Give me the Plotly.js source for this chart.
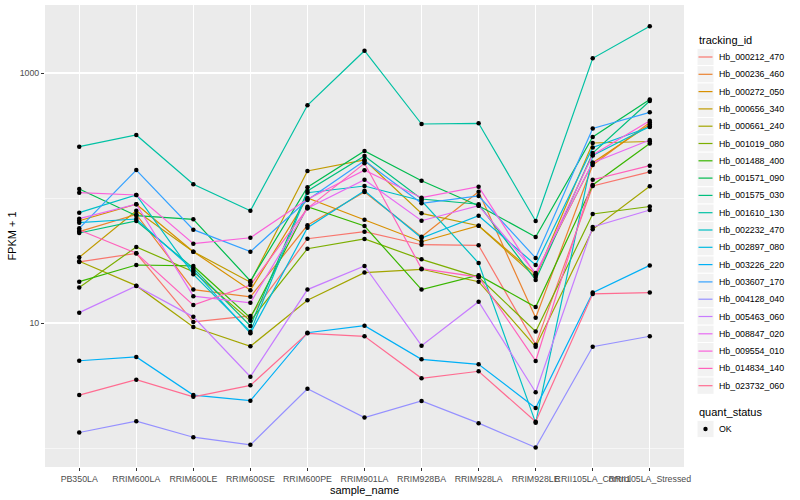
<!DOCTYPE html>
<html>
<head>
<meta charset="utf-8">
<script src="https://cdn.plot.ly/plotly-3.0.1.min.js"></script>
<style>
html,body{margin:0;padding:0;background:#fff;}
#chart{width:800px;height:500px;}
</style>
</head>
<body>
<div id="chart"></div>
<script>
// x categories (sample_name)
const categories = ['PB350LA','RRIM600LA','RRIM600LE','RRIM600SE','RRIM600PE','RRIM901LA','RRIM928BA','RRIM928LA','RRIM928LE','RRII105LA_Control','RRII105LA_Stressed'];

// series names (tracking_id)
const trackingIds = ['Hb_000212_470','Hb_000236_460','Hb_000272_050','Hb_000656_340','Hb_000661_240','Hb_001019_080','Hb_001488_400','Hb_001571_090','Hb_001575_030','Hb_001610_130','Hb_002232_470','Hb_002897_080','Hb_003226_220','Hb_003607_170','Hb_004128_040','Hb_005463_060','Hb_008847_020','Hb_009554_010','Hb_014834_140','Hb_023732_060'];

// FPKM + 1 values, one array per tracking_id, in category order
const Hb_000212_470 = [30.8, 36.1, 10.2, 11.4, 47.2, 53.8, 42.3, 41.8, 6.71, 124.7, 162.0];
const Hb_000236_460 = [53.8, 74.0, 18.5, 16.2, 60.5, 111.7, 49.0, 112.3, 11.0, 183.7, 401.8];
const Hb_000272_050 = [65.8, 89.1, 37.2, 18.3, 100.0, 67.0, 44.7, 60.0, 24.5, 191.6, 387.3];
const Hb_000656_340 = [33.5, 79.1, 37.2, 21.2, 164.4, 201.4, 75.4, 60.0, 23.3, 275.4, 283.1];
const Hb_000661_240 = [31.2, 19.9, 9.29, 6.51, 15.2, 25.3, 26.9, 21.4, 6.46, 56.2, 124.3];
const Hb_001019_080 = [19.2, 40.6, 25.7, 10.4, 39.3, 47.0, 32.3, 23.3, 8.55, 74.5, 85.5];
const Hb_001488_400 = [21.4, 29.1, 28.6, 11.0, 85.2, 59.7, 18.5, 24.1, 13.4, 127.1, 272.9];
const Hb_001571_090 = [118.0, 72.2, 67.5, 21.7, 121.8, 237.7, 137.5, 86.8, 48.8, 307.6, 613.8];
const Hb_001575_030 = [52.5, 65.5, 27.5, 9.46, 113.8, 216.8, 98.2, 89.1, 22.1, 229.1, 597.0];
const Hb_001610_130 = [257.3, 319.2, 128.7, 79.1, 551.4, 1508, 390.8, 396.0, 65.5, 1311, 2363];
const Hb_002232_470 = [76.3, 105.7, 24.5, 8.52, 110.3, 124.7, 95.1, 30.2, 1.59, 218.8, 373.3];
const Hb_002897_080 = [63.5, 67.9, 26.5, 8.27, 57.9, 114.4, 47.9, 72.2, 29.1, 253.5, 369.8];
const Hb_003226_220 = [4.99, 5.35, 2.65, 2.39, 8.36, 9.51, 5.12, 4.67, 2.09, 17.5, 28.9];
const Hb_003607_170 = [57.2, 167.5, 55.8, 37.2, 96.4, 198.8, 90.7, 103.8, 33.1, 359.7, 484.8];
const Hb_004128_040 = [1.33, 1.64, 1.22, 1.06, 2.98, 1.75, 2.38, 1.58, 1.01, 6.46, 7.83];
const Hb_005463_060 = [12.1, 19.8, 11.2, 3.72, 18.5, 28.6, 6.58, 14.8, 2.79, 58.6, 80.2];
const Hb_008847_020 = [68.3, 89.1, 16.4, 14.5, 82.7, 140.1, 65.8, 86.8, 25.1, 191.6, 291.1];
const Hb_009554_010 = [110.3, 105.7, 43.1, 48.1, 97.6, 166.6, 100.6, 123.1, 24.2, 220.8, 415.3];
const Hb_014834_140 = [55.5, 36.1, 13.9, 20.1, 82.7, 189.5, 27.2, 23.3, 4.97, 140.1, 181.3];
const Hb_023732_060 = [2.65, 3.52, 2.57, 3.17, 8.27, 7.83, 3.61, 4.11, 1.62, 17.1, 17.5];

const seriesValues = [Hb_000212_470, Hb_000236_460, Hb_000272_050, Hb_000656_340, Hb_000661_240, Hb_001019_080, Hb_001488_400, Hb_001571_090, Hb_001575_030, Hb_001610_130, Hb_002232_470, Hb_002897_080, Hb_003226_220, Hb_003607_170, Hb_004128_040, Hb_005463_060, Hb_008847_020, Hb_009554_010, Hb_014834_140, Hb_023732_060];

// quant_status levels
const quantStatus = ['OK'];

// ggplot2 default hue palette for 20 levels
const colors = ['#F8766D','#EA8331','#D89000','#C09B00','#A3A500','#7CAE00','#39B600','#00BB4E','#00BF7D','#00C1A3','#00BFC4','#00BAE0','#00B0F6','#35A2FF','#9590FF','#C77CFF','#E76BF3','#FA62DB','#FF62BC','#FF6C91'];

const yTickVals = [10, 1000];
const yTickText = ['10', '1000'];
const yMinorVals = [1, 100];

const FONT = 'Liberation Sans, Arial, Helvetica, sans-serif';
const W = 800, H = 500;
const M = {l: 45, r: 116, t: 5, b: 33};
const PW = W - M.l - M.r, PH = H - M.t - M.b;
const px = v => (v - M.l) / PW;          // page px -> paper x
const py = v => (H - M.b - v) / PH;      // page px -> paper y

const traces = trackingIds.map((id, i) => ({
  type: 'scatter',
  mode: 'lines',
  name: id,
  x: categories,
  y: seriesValues[i],
  line: {color: colors[i], width: 1.2},
  showlegend: false,
  hoverinfo: 'skip'
}));

traces.push({
  type: 'scatter',
  mode: 'markers',
  name: quantStatus[0],
  x: trackingIds.flatMap(() => categories),
  y: seriesValues.flat(),
  marker: {color: '#000000', size: 4.5, symbol: 'circle'},
  showlegend: false,
  hoverinfo: 'skip'
});

// ggplot-style legend (keys + labels)
const shapes = [];
const annotations = [];
const keyX0 = 697, keyX1 = 714, textX = 717;
const step = 17.3, firstY = 57;

annotations.push({xref: 'paper', yref: 'paper', x: px(697), y: py(40), xanchor: 'left', yanchor: 'middle',
  text: 'tracking_id', showarrow: false, font: {family: FONT, size: 11, color: '#000000'}});

trackingIds.forEach((id, i) => {
  const cy = firstY + i * step;
  shapes.push({type: 'rect', xref: 'paper', yref: 'paper', x0: px(keyX0), x1: px(keyX1),
    y0: py(cy - step / 2), y1: py(cy + step / 2), fillcolor: '#F2F2F2', line: {color: '#FFFFFF', width: 1}, layer: 'above'});
  shapes.push({type: 'line', xref: 'paper', yref: 'paper', x0: px(keyX0 + 1.5), x1: px(keyX1 - 1.5),
    y0: py(cy), y1: py(cy), line: {color: colors[i], width: 1.2}, layer: 'above'});
  annotations.push({xref: 'paper', yref: 'paper', x: px(textX), y: py(cy), xanchor: 'left', yanchor: 'middle',
    text: id, showarrow: false, font: {family: FONT, size: 8.8, color: '#000000'}});
});

annotations.push({xref: 'paper', yref: 'paper', x: px(697), y: py(412), xanchor: 'left', yanchor: 'middle',
  text: 'quant_status', showarrow: false, font: {family: FONT, size: 11, color: '#000000'}});
quantStatus.forEach((q, i) => {
  const cy = 429 + i * step;
  shapes.push({type: 'rect', xref: 'paper', yref: 'paper', x0: px(keyX0), x1: px(keyX1),
    y0: py(cy - step / 2), y1: py(cy + step / 2), fillcolor: '#F2F2F2', line: {color: '#FFFFFF', width: 1}, layer: 'above'});
  shapes.push({type: 'circle', xref: 'paper', yref: 'paper', x0: px(703.3), x1: px(707.7),
    y0: py(cy - 2.2), y1: py(cy + 2.2), fillcolor: '#000000', line: {width: 0}, layer: 'above'});
  annotations.push({xref: 'paper', yref: 'paper', x: px(textX), y: py(cy), xanchor: 'left', yanchor: 'middle',
    text: q, showarrow: false, font: {family: FONT, size: 8.8, color: '#000000'}});
});

const layout = {
  width: W,
  height: H,
  paper_bgcolor: '#FFFFFF',
  plot_bgcolor: '#EBEBEB',
  margin: M,
  font: {family: FONT, size: 9, color: '#000000'},
  showlegend: false,
  shapes: shapes,
  annotations: annotations,
  xaxis: {
    type: 'category',
    range: [-0.6, 10.6],
    showgrid: true,
    gridcolor: '#FFFFFF',
    gridwidth: 1.07,
    zeroline: false,
    showline: false,
    ticks: 'outside',
    ticklen: 3,
    tickwidth: 1,
    tickcolor: '#333333',
    tickangle: 0,
    tickfont: {family: FONT, size: 8.8, color: '#4D4D4D'},
    title: {text: 'sample_name', font: {family: FONT, size: 11, color: '#000000'}, standoff: 2}
  },
  yaxis: {
    type: 'log',
    range: [-0.152, 3.544],
    tickmode: 'array',
    tickvals: yTickVals,
    ticktext: yTickText,
    showgrid: true,
    gridcolor: '#FFFFFF',
    gridwidth: 1.07,
    minor: {tickmode: 'array', tickvals: yMinorVals, showgrid: true, gridcolor: '#FFFFFF', gridwidth: 0.53, ticks: ''},
    zeroline: false,
    showline: false,
    ticks: 'outside',
    ticklen: 3,
    tickwidth: 1,
    tickcolor: '#333333',
    tickfont: {family: FONT, size: 8.8, color: '#4D4D4D'},
    title: {text: 'FPKM + 1', font: {family: FONT, size: 11, color: '#000000'}, standoff: 0}
  }
};

Plotly.newPlot('chart', traces, layout, {displayModeBar: false, staticPlot: true});
</script>
</body>
</html>
